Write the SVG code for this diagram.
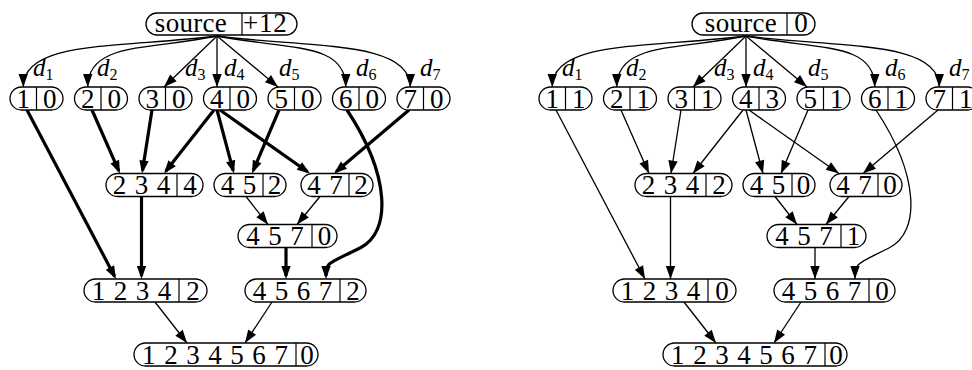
<svg xmlns="http://www.w3.org/2000/svg" width="972" height="370" viewBox="0 0 972 370">
<style>
.bg{fill:#fff}
.p{fill:#fff;stroke:#000;stroke-width:1.3}
.dv{stroke:#000;stroke-width:1.2}
.t{font-family:"Liberation Serif","DejaVu Serif",serif;font-size:27px;text-anchor:middle;fill:#000}
.ks{word-spacing:1.8px}
.d{font-family:"Liberation Serif","DejaVu Serif",serif;font-size:25px;font-style:italic;fill:#000}
.sub{font-size:16px;font-style:normal}
.e{fill:none;stroke:#000;stroke-width:1.3;marker-end:url(#ah)}
.E{fill:none;stroke:#000;stroke-width:3.2;marker-end:url(#ahT)}
</style>
<defs>
<marker id="ah" markerUnits="userSpaceOnUse" markerWidth="14" markerHeight="10" refX="13" refY="5" orient="auto" overflow="visible"><path d="M0,0.3 L13,5 L0,9.7 z"/></marker>
<marker id="ahT" markerUnits="userSpaceOnUse" markerWidth="14" markerHeight="10" refX="10" refY="5" orient="auto" overflow="visible"><path d="M0,0.3 L13,5 L0,9.7 z"/></marker>
</defs>
<rect class="bg" x="0" y="0" width="972" height="370"/>

<!-- LEFT DIAGRAM -->
<g id="left">
<g id="L-edges">
<path class="e" d="M217,36 C120,48 23.25,40 23.25,87"/>
<path class="e" d="M217,36 C150,50 87.75,42 87.75,87"/>
<path class="e" d="M217,36 L164,87"/>
<path class="e" d="M217,36 L217,87"/>
<path class="e" d="M217,36 L278,87"/>
<path class="e" d="M217,36 C290,50 345.75,42 345.75,87"/>
<path class="e" d="M217,36 C310,48 410.25,40 410.25,87"/>
<path class="E" d="M92,110 L118.8,170.8"/>
<path class="E" d="M152,110 L142.5,170.5"/>
<path class="E" d="M214,110 L165.9,171.1"/>
<path class="E" d="M217,110 L233.2,170.6"/>
<path class="E" d="M279,110 L253.2,170.7"/>
<path class="E" d="M220,110 L307.5,171.8"/>
<path class="E" d="M409,110 L336.3,171.5"/>
<path class="E" d="M141.5,196.5 L141.5,276"/>
<path class="E" d="M27,110 L114.6,276.4"/>
<path class="E" d="M286,247.5 L286,276"/>
<path class="E" d="M347,110 C390,175 392,232 360,248 S326,262 326,276"/>
<path class="e" d="M246,196.5 L268,224.5"/>
<path class="e" d="M320,196.5 L297,224.5"/>
<path class="e" d="M155,302 L187,343"/>
<path class="e" d="M272,302 L245,343"/>
</g>
<g id="L-labels">
<text class="d" x="33" y="76">d<tspan class="sub" dy="4">1</tspan></text>
<text class="d" x="97" y="76">d<tspan class="sub" dy="4">2</tspan></text>
<text class="d" x="185" y="76">d<tspan class="sub" dy="4">3</tspan></text>
<text class="d" x="224" y="76">d<tspan class="sub" dy="4">4</tspan></text>
<text class="d" x="279" y="76">d<tspan class="sub" dy="4">5</tspan></text>
<text class="d" x="356" y="76">d<tspan class="sub" dy="4">6</tspan></text>
<text class="d" x="420" y="76">d<tspan class="sub" dy="4">7</tspan></text>
</g>
<g id="L-source">
<rect class="p" x="146" y="13" width="151" height="22" rx="11"/>
<line class="dv" x1="242" y1="13" x2="242" y2="35"/>
<text class="t" x="191" y="31.5" style="letter-spacing:0.3px">source</text>
<text class="t" x="243" y="31.5" style="text-anchor:start;letter-spacing:0.8px">+12</text>
</g>
<g id="L-n1"><rect class="p" x="10" y="87" width="53" height="23" rx="11.5"/><line class="dv" x1="36.5" y1="87" x2="36.5" y2="110"/><text class="t" x="23.25" y="107.5">1</text><text class="t" x="49.75" y="107.5">0</text></g>
<g id="L-n2"><rect class="p" x="74.5" y="87" width="53" height="23" rx="11.5"/><line class="dv" x1="101" y1="87" x2="101" y2="110"/><text class="t" x="87.75" y="107.5">2</text><text class="t" x="114.25" y="107.5">0</text></g>
<g id="L-n3"><rect class="p" x="139" y="87" width="53" height="23" rx="11.5"/><line class="dv" x1="165.5" y1="87" x2="165.5" y2="110"/><text class="t" x="152.25" y="107.5">3</text><text class="t" x="178.75" y="107.5">0</text></g>
<g id="L-n4"><rect class="p" x="203.5" y="87" width="53" height="23" rx="11.5"/><line class="dv" x1="230" y1="87" x2="230" y2="110"/><text class="t" x="216.75" y="107.5">4</text><text class="t" x="243.25" y="107.5">0</text></g>
<g id="L-n5"><rect class="p" x="268" y="87" width="53" height="23" rx="11.5"/><line class="dv" x1="294.5" y1="87" x2="294.5" y2="110"/><text class="t" x="281.25" y="107.5">5</text><text class="t" x="307.75" y="107.5">0</text></g>
<g id="L-n6"><rect class="p" x="332.5" y="87" width="53" height="23" rx="11.5"/><line class="dv" x1="359" y1="87" x2="359" y2="110"/><text class="t" x="345.75" y="107.5">6</text><text class="t" x="372.25" y="107.5">0</text></g>
<g id="L-n7"><rect class="p" x="397" y="87" width="53" height="23" rx="11.5"/><line class="dv" x1="423.5" y1="87" x2="423.5" y2="110"/><text class="t" x="410.25" y="107.5">7</text><text class="t" x="436.75" y="107.5">0</text></g>
<g id="L-n234"><rect class="p" x="106" y="173.5" width="97" height="23" rx="11.5"/><line class="dv" x1="177" y1="173.5" x2="177" y2="196.5"/><text class="t ks" x="141.5" y="194">2 3 4</text><text class="t" x="190" y="194">4</text></g>
<g id="L-n45"><rect class="p" x="214" y="173.5" width="72" height="23" rx="11.5"/><line class="dv" x1="263" y1="173.5" x2="263" y2="196.5"/><text class="t ks" x="238.5" y="194">4 5</text><text class="t" x="274.5" y="194">2</text></g>
<g id="L-n47"><rect class="p" x="301" y="173.5" width="72" height="23" rx="11.5"/><line class="dv" x1="349" y1="173.5" x2="349" y2="196.5"/><text class="t ks" x="325" y="194">4 7</text><text class="t" x="361" y="194">2</text></g>
<g id="L-n457"><rect class="p" x="238" y="224.5" width="99" height="23" rx="11.5"/><line class="dv" x1="312" y1="224.5" x2="312" y2="247.5"/><text class="t ks" x="275" y="245">4 5 7</text><text class="t" x="324.5" y="245">0</text></g>
<g id="L-n1234"><rect class="p" x="84" y="279" width="123" height="23" rx="11.5"/><line class="dv" x1="179" y1="279" x2="179" y2="302"/><text class="t ks" x="131.5" y="299.5">1 2 3 4</text><text class="t" x="193" y="299.5">2</text></g>
<g id="L-n4567"><rect class="p" x="245" y="279" width="121" height="23" rx="11.5"/><line class="dv" x1="340" y1="279" x2="340" y2="302"/><text class="t ks" x="292.5" y="299.5">4 5 6 7</text><text class="t" x="353" y="299.5">2</text></g>
<g id="L-nall"><rect class="p" x="134" y="343" width="184" height="23" rx="11.5"/><line class="dv" x1="296" y1="343" x2="296" y2="366"/><text class="t ks" x="215" y="363.5">1 2 3 4 5 6 7</text><text class="t" x="307" y="363.5">0</text></g>
</g>

<!-- RIGHT DIAGRAM -->
<g id="right" transform="translate(529,0)">
<g id="R-edges">
<path class="e" d="M217,36 C120,48 23.25,40 23.25,87"/>
<path class="e" d="M217,36 C150,50 87.75,42 87.75,87"/>
<path class="e" d="M217,36 L164,87"/>
<path class="e" d="M217,36 L217,87"/>
<path class="e" d="M217,36 L278,87"/>
<path class="e" d="M217,36 C290,50 345.75,42 345.75,87"/>
<path class="e" d="M217,36 C310,48 410.25,40 410.25,87"/>
<path class="e" d="M92,110 L120,173.5"/>
<path class="e" d="M152,110 L142,173.5"/>
<path class="e" d="M214,110 L164,173.5"/>
<path class="e" d="M217,110 L234,173.5"/>
<path class="e" d="M279,110 L252,173.5"/>
<path class="e" d="M220,110 L310,173.5"/>
<path class="e" d="M409,110 L334,173.5"/>
<path class="e" d="M141.5,196.5 L141.5,279"/>
<path class="e" d="M27,110 L116,279"/>
<path class="e" d="M286,247.5 L286,279"/>
<path class="e" d="M347,110 C390,175 392,232 360,248 S326,262 326,279"/>
<path class="e" d="M246,196.5 L268,224.5"/>
<path class="e" d="M320,196.5 L297,224.5"/>
<path class="e" d="M155,302 L187,343"/>
<path class="e" d="M272,302 L245,343"/>
</g>
<g id="R-labels">
<text class="d" x="33" y="76">d<tspan class="sub" dy="4">1</tspan></text>
<text class="d" x="97" y="76">d<tspan class="sub" dy="4">2</tspan></text>
<text class="d" x="185" y="76">d<tspan class="sub" dy="4">3</tspan></text>
<text class="d" x="224" y="76">d<tspan class="sub" dy="4">4</tspan></text>
<text class="d" x="279" y="76">d<tspan class="sub" dy="4">5</tspan></text>
<text class="d" x="356" y="76">d<tspan class="sub" dy="4">6</tspan></text>
<text class="d" x="420" y="76">d<tspan class="sub" dy="4">7</tspan></text>
</g>
<g id="R-source">
<rect class="p" x="163" y="13" width="123" height="22" rx="11"/>
<line class="dv" x1="258" y1="13" x2="258" y2="35"/>
<text class="t" x="212" y="31.5" style="letter-spacing:0.3px">source</text>
<text class="t" x="272" y="31.5">0</text>
</g>
<g id="R-n1"><rect class="p" x="10" y="87" width="53" height="23" rx="11.5"/><line class="dv" x1="36.5" y1="87" x2="36.5" y2="110"/><text class="t" x="23.25" y="107.5">1</text><text class="t" x="49.75" y="107.5">1</text></g>
<g id="R-n2"><rect class="p" x="74.5" y="87" width="53" height="23" rx="11.5"/><line class="dv" x1="101" y1="87" x2="101" y2="110"/><text class="t" x="87.75" y="107.5">2</text><text class="t" x="114.25" y="107.5">1</text></g>
<g id="R-n3"><rect class="p" x="139" y="87" width="53" height="23" rx="11.5"/><line class="dv" x1="165.5" y1="87" x2="165.5" y2="110"/><text class="t" x="152.25" y="107.5">3</text><text class="t" x="178.75" y="107.5">1</text></g>
<g id="R-n4"><rect class="p" x="203.5" y="87" width="53" height="23" rx="11.5"/><line class="dv" x1="230" y1="87" x2="230" y2="110"/><text class="t" x="216.75" y="107.5">4</text><text class="t" x="243.25" y="107.5">3</text></g>
<g id="R-n5"><rect class="p" x="268" y="87" width="53" height="23" rx="11.5"/><line class="dv" x1="294.5" y1="87" x2="294.5" y2="110"/><text class="t" x="281.25" y="107.5">5</text><text class="t" x="307.75" y="107.5">1</text></g>
<g id="R-n6"><rect class="p" x="332.5" y="87" width="53" height="23" rx="11.5"/><line class="dv" x1="359" y1="87" x2="359" y2="110"/><text class="t" x="345.75" y="107.5">6</text><text class="t" x="372.25" y="107.5">1</text></g>
<g id="R-n7"><rect class="p" x="397" y="87" width="53" height="23" rx="11.5"/><line class="dv" x1="423.5" y1="87" x2="423.5" y2="110"/><text class="t" x="410.25" y="107.5">7</text><text class="t" x="436.75" y="107.5">1</text></g>
<g id="R-n234"><rect class="p" x="106" y="173.5" width="97" height="23" rx="11.5"/><line class="dv" x1="177" y1="173.5" x2="177" y2="196.5"/><text class="t ks" x="141.5" y="194">2 3 4</text><text class="t" x="190" y="194">2</text></g>
<g id="R-n45"><rect class="p" x="214" y="173.5" width="72" height="23" rx="11.5"/><line class="dv" x1="263" y1="173.5" x2="263" y2="196.5"/><text class="t ks" x="238.5" y="194">4 5</text><text class="t" x="274.5" y="194">0</text></g>
<g id="R-n47"><rect class="p" x="301" y="173.5" width="72" height="23" rx="11.5"/><line class="dv" x1="349" y1="173.5" x2="349" y2="196.5"/><text class="t ks" x="325" y="194">4 7</text><text class="t" x="361" y="194">0</text></g>
<g id="R-n457"><rect class="p" x="238" y="224.5" width="99" height="23" rx="11.5"/><line class="dv" x1="312" y1="224.5" x2="312" y2="247.5"/><text class="t ks" x="275" y="245">4 5 7</text><text class="t" x="324.5" y="245">1</text></g>
<g id="R-n1234"><rect class="p" x="84" y="279" width="123" height="23" rx="11.5"/><line class="dv" x1="179" y1="279" x2="179" y2="302"/><text class="t ks" x="131.5" y="299.5">1 2 3 4</text><text class="t" x="193" y="299.5">0</text></g>
<g id="R-n4567"><rect class="p" x="245" y="279" width="121" height="23" rx="11.5"/><line class="dv" x1="340" y1="279" x2="340" y2="302"/><text class="t ks" x="292.5" y="299.5">4 5 6 7</text><text class="t" x="353" y="299.5">0</text></g>
<g id="R-nall"><rect class="p" x="134" y="343" width="184" height="23" rx="11.5"/><line class="dv" x1="296" y1="343" x2="296" y2="366"/><text class="t ks" x="215" y="363.5">1 2 3 4 5 6 7</text><text class="t" x="307" y="363.5">0</text></g>
</g>
</svg>
